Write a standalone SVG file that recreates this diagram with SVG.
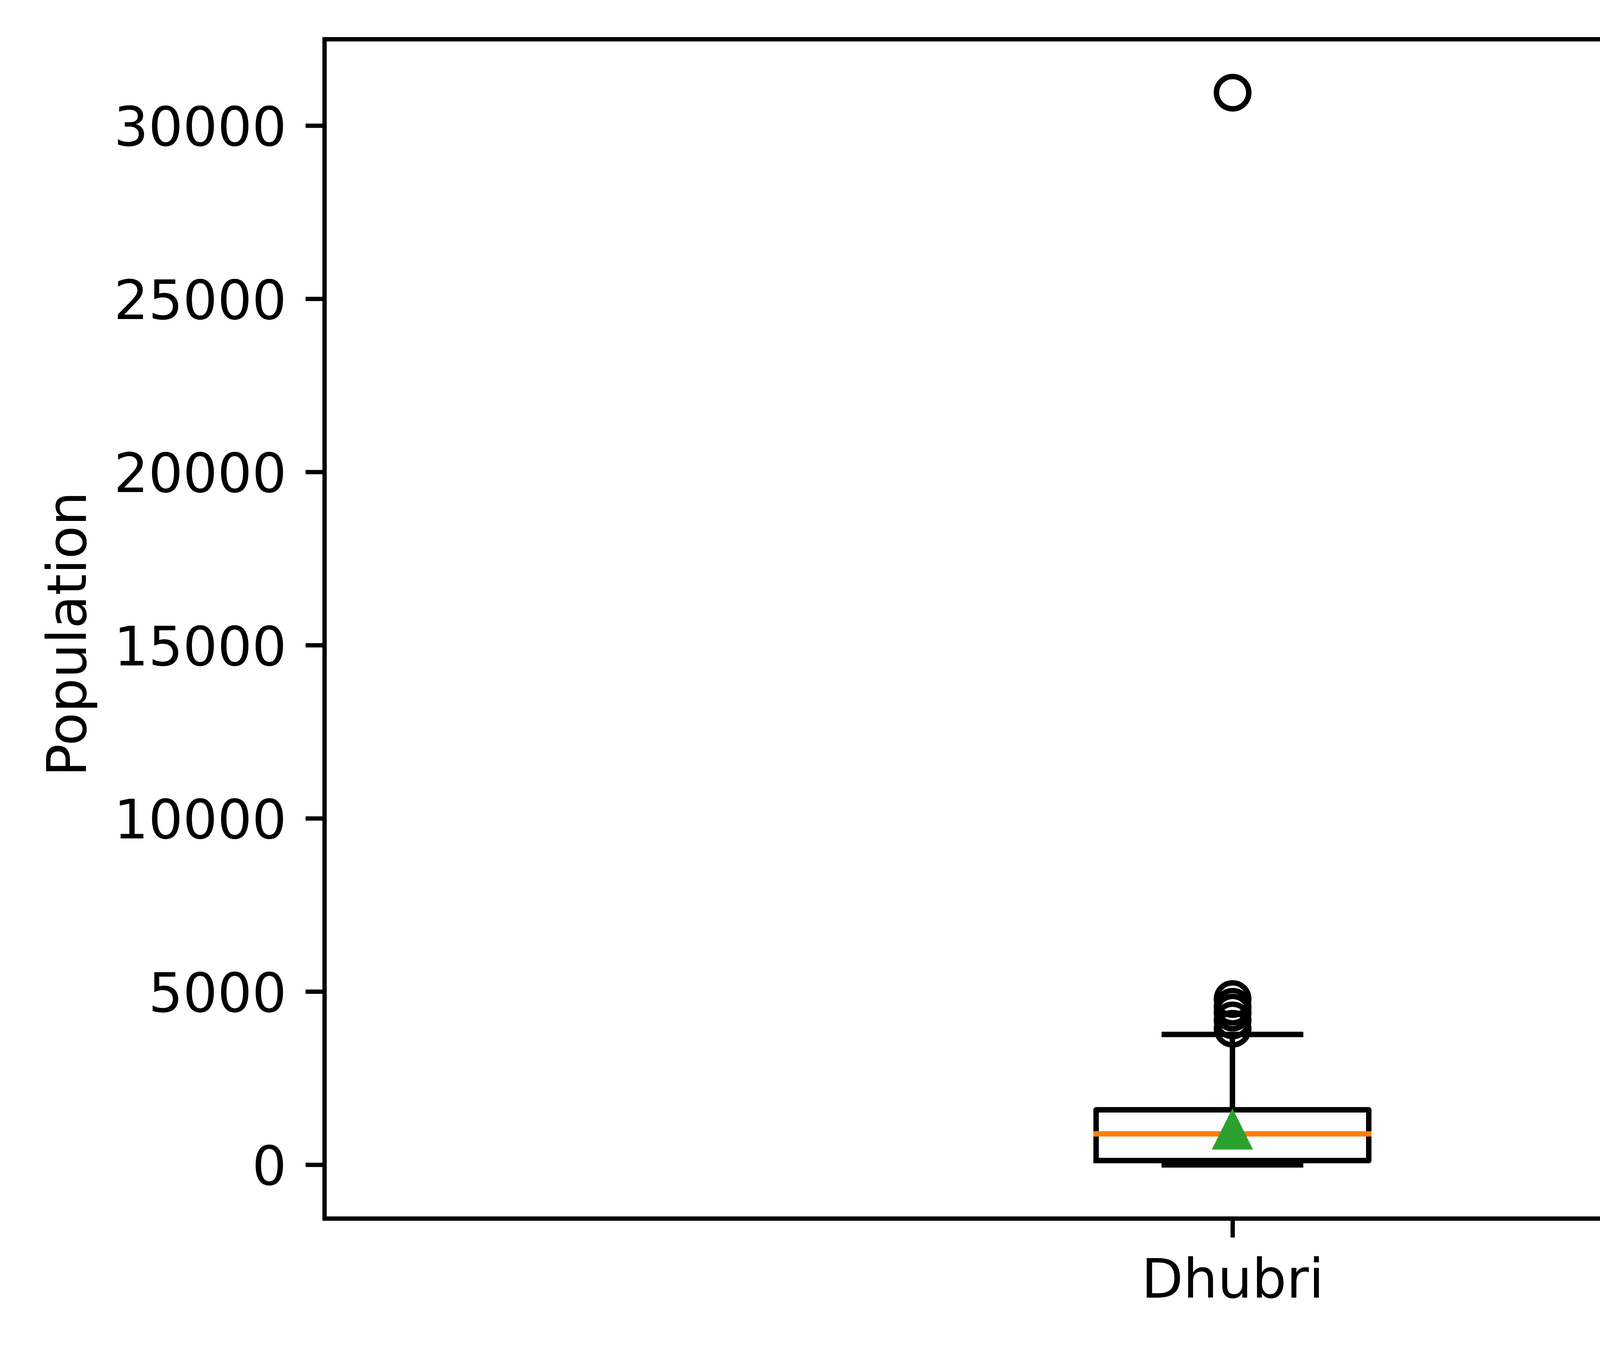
<svg xmlns="http://www.w3.org/2000/svg" width="5579" height="3452" viewBox="0 0 5579 3452">
<style>
.txt{font-family:"DejaVu Sans","Liberation Sans",sans-serif;font-size:139px;fill:#000}
.tick{stroke:#000;stroke-width:11.1;fill:none}
.bp{stroke:#000;stroke-width:13.9;fill:none;stroke-linecap:square;stroke-linejoin:round}
.flier{stroke:#000;stroke-width:13.9;fill:none}
</style>
<rect x="0" y="0" width="5579" height="3452" fill="#fff"/>
<g id="axes-frame">
<rect x="830.9" y="100.5" width="4649.6" height="3020.1" fill="none" stroke="#000" stroke-width="11.1" stroke-linejoin="miter"/>
</g>
<g id="y-axis">
<g class="tick">
<line x1="782.3" y1="2983" x2="830.9" y2="2983"/>
<line x1="782.3" y1="2539.5" x2="830.9" y2="2539.5"/>
<line x1="782.3" y1="2096" x2="830.9" y2="2096"/>
<line x1="782.3" y1="1652.5" x2="830.9" y2="1652.5"/>
<line x1="782.3" y1="1209" x2="830.9" y2="1209"/>
<line x1="782.3" y1="765.5" x2="830.9" y2="765.5"/>
<line x1="782.3" y1="322" x2="830.9" y2="322"/>
</g>
<g class="txt" text-anchor="end">
<text x="733.7" y="3034">0</text>
<text x="733.7" y="2590.5">5000</text>
<text x="733.7" y="2147">10000</text>
<text x="733.7" y="1703.5">15000</text>
<text x="733.7" y="1260">20000</text>
<text x="733.7" y="816.5">25000</text>
<text x="733.7" y="373">30000</text>
</g>
<text class="txt" text-anchor="middle" transform="translate(219.5,1623.5) rotate(-90)">Population</text>
</g>
<g id="x-axis">
<line class="tick" x1="3155.7" y1="3120.6" x2="3155.7" y2="3169.2"/>
<text class="txt" text-anchor="middle" x="3155.7" y="3322.5">Dhubri</text>
</g>
<g id="boxplot-dhubri">
<path class="bp" d="M2806,2972 L3504,2972 L3504,2842 L2806,2842 L2806,2972"/>
<line class="bp" x1="3155" y1="2842" x2="3155" y2="2649"/>
<line class="bp" x1="3155" y1="2972" x2="3155" y2="2983"/>
<line class="bp" x1="2980.5" y1="2649" x2="3329.5" y2="2649"/>
<line class="bp" x1="2980.5" y1="2983" x2="3329.5" y2="2983"/>
<line x1="2806" y1="2903.6" x2="3504" y2="2903.6" stroke="#ff7f0e" stroke-width="13.9" stroke-linecap="square"/>
<g id="fliers">
<circle class="flier" cx="3155.5" cy="237.3" r="41.4"/>
<circle class="flier" cx="3155.5" cy="2558.3" r="41.4"/>
<circle class="flier" cx="3155.5" cy="2578" r="41.4"/>
<circle class="flier" cx="3155.5" cy="2593" r="41.4"/>
<circle class="flier" cx="3155.5" cy="2613" r="41.4"/>
<circle class="flier" cx="3155.5" cy="2634.4" r="41.4"/>
</g>
<polygon id="mean" points="3155,2853.5 3113.5,2936.7 3196.5,2936.7" fill="#2ca02c" stroke="#2ca02c" stroke-width="13.9" stroke-linejoin="miter"/>
</g>
</svg>
